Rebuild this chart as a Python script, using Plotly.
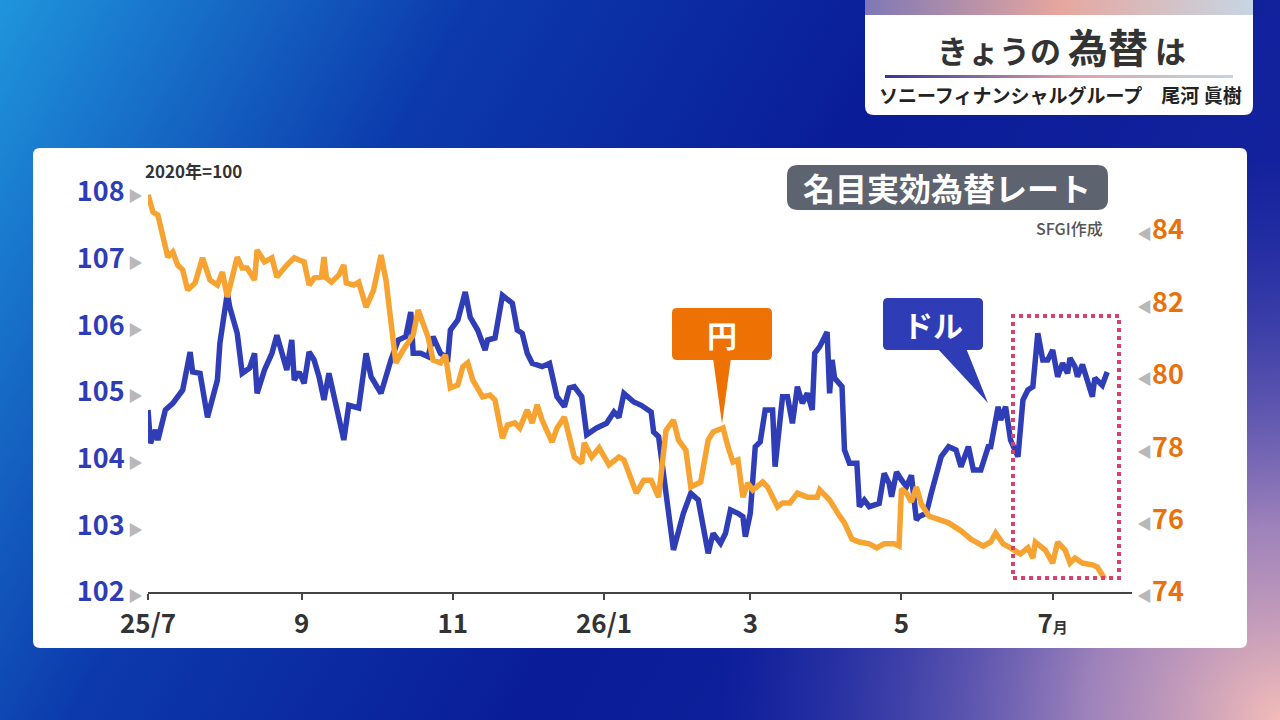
import base64
import pandas as pd
import plotly.graph_objects as go

W, H = 1280, 720
FONT = "Noto Sans CJK JP"

# days after 2025-07-01 and index values (2020=100)
usd_days = [0, 1, 3, 4, 7, 10, 14, 17, 18, 21,
            24, 28, 29, 32, 33, 36, 38, 41, 43, 44,
            47, 50, 52, 56, 58, 59, 61, 63, 65, 67,
            69, 71, 73, 75, 76, 79, 81, 85, 88, 90,
            94, 98, 101, 104, 106, 107, 110, 113, 115, 118,
            121, 122, 125, 128, 130, 133, 136, 137, 140, 141,
            143, 147, 149, 151, 153, 155, 159, 162, 163, 165,
            168, 170, 172, 175, 177, 181, 185, 188, 190, 192,
            196, 199, 203, 204, 206, 209, 212, 216, 219, 222,
            224, 226, 228, 231, 233, 235, 238, 240, 241, 243,
            245, 247, 249, 252, 253, 256, 258, 260, 262, 264,
            266, 268, 269, 271, 274, 275, 276, 277, 280, 281,
            283, 286, 287, 289, 291, 295, 297, 299, 300, 302,
            304, 306, 308, 310, 311, 314, 316, 318, 320, 323,
            326, 328, 331, 333, 336, 339, 340, 343, 344, 346,
            348, 351, 353, 355, 357, 359, 361, 363, 365, 367,
            369, 371, 372, 374, 375, 377, 379, 381, 382, 385,
            387]
usd_vals = [104.73, 104.23, 104.43, 104.28, 104.73, 104.83, 105.03, 105.60, 105.30, 105.28,
            104.62, 105.18, 105.73, 106.48, 106.27, 105.88, 105.28, 105.36, 105.58, 104.98,
            105.33, 105.58, 105.85, 105.33, 105.78, 105.18, 105.30, 105.13, 105.60, 105.48,
            105.23, 104.88, 105.28, 104.93, 104.78, 104.28, 104.80, 104.76, 105.58, 105.23,
            104.98, 105.48, 105.78, 105.83, 106.20, 105.58, 105.58, 105.53, 105.83, 105.58,
            105.51, 105.93, 106.08, 106.50, 106.12, 105.93, 105.63, 105.78, 105.81, 106.00,
            106.45, 106.33, 105.93, 105.88, 105.58, 105.43, 105.38, 105.43, 105.23, 104.93,
            104.78, 105.06, 105.08, 104.93, 104.36, 104.46, 104.53, 104.70, 104.62, 104.98,
            104.85, 104.80, 104.70, 104.40, 104.33, 103.43, 102.63, 103.18, 103.48, 103.38,
            102.98, 102.58, 102.88, 102.73, 102.88, 103.23, 103.18, 103.13, 102.83, 103.18,
            104.18, 104.25, 104.73, 104.73, 103.88, 104.93, 104.93, 104.53, 105.08, 104.83,
            104.98, 104.73, 105.58, 105.68, 105.90, 104.98, 105.48, 105.21, 105.08, 104.13,
            103.93, 103.93, 103.28, 103.38, 103.28, 103.33, 103.78, 103.63, 103.43, 103.80,
            103.68, 103.58, 103.75, 103.08, 103.13, 103.18, 103.48, 103.78, 104.03, 104.18,
            104.13, 103.88, 104.18, 103.83, 103.83, 104.18, 104.18, 104.78, 104.58, 104.78,
            104.28, 104.03, 104.88, 105.03, 105.08, 105.88, 105.48, 105.48, 105.63, 105.23,
            105.43, 105.28, 105.51, 105.38, 105.23, 105.41, 105.18, 104.93, 105.21, 105.10,
            105.30]

jpy_days = [0, 2, 4, 6, 8, 10, 12, 14, 16, 19,
            22, 25, 28, 30, 32, 36, 38, 40, 43, 44,
            47, 50, 52, 56, 59, 61, 63, 65, 67, 70,
            71, 72, 74, 77, 79, 80, 83, 85, 88, 91,
            94, 96, 98, 100, 103, 107, 109, 111, 113, 115,
            118, 120, 122, 125, 127, 129, 131, 135, 138, 140,
            143, 145, 148, 150, 153, 155, 157, 159, 163, 165,
            168, 172, 175, 176, 179, 182, 186, 190, 192, 194,
            197, 200, 203, 206, 209, 212, 214, 217, 219, 223,
            226, 228, 232, 234, 236, 238, 240, 242, 244, 248,
            250, 254, 256, 259, 262, 266, 270, 271, 275, 279,
            281, 284, 287, 291, 294, 297, 301, 303, 304, 306,
            308, 310, 312, 315, 320, 323, 328, 332, 337, 340,
            342, 345, 348, 352, 355, 357, 358, 362, 365, 367,
            370, 372, 374, 377, 381, 383, 386]
jpy_vals = [84.97, 84.50, 84.41, 83.81, 83.25, 83.39, 83.03, 82.90, 82.34, 82.54,
            83.23, 82.62, 82.48, 82.84, 82.15, 83.25, 82.95, 82.95, 82.62, 83.45,
            83.12, 83.23, 82.70, 83.03, 83.23, 83.17, 83.12, 82.48, 82.67, 82.70,
            83.25, 82.67, 82.56, 82.76, 83.03, 82.54, 82.48, 82.56, 81.87, 82.34,
            83.31, 82.62, 81.43, 80.33, 80.69, 81.10, 81.79, 81.46, 81.04, 80.41,
            80.33, 80.55, 79.64, 79.72, 80.22, 80.33, 79.86, 79.39, 79.44, 79.30,
            78.25, 78.61, 78.67, 78.53, 79.03, 78.67, 79.17, 78.75, 78.14, 78.53,
            78.83, 77.73, 77.56, 78.12, 77.73, 77.98, 77.51, 77.73, 77.65, 77.29,
            76.73, 77.09, 77.09, 76.62, 78.47, 78.75, 78.20, 77.92, 76.90, 77.04,
            78.20, 78.42, 78.53, 78.01, 77.59, 77.65, 76.62, 77.01, 76.82, 77.04,
            76.90, 76.35, 76.46, 76.46, 76.73, 76.62, 76.62, 76.82, 76.54, 76.10,
            75.91, 75.46, 75.38, 75.33, 75.22, 75.33, 75.33, 75.27, 76.85, 76.73,
            76.49, 76.90, 76.43, 76.10, 75.96, 75.91, 75.69, 75.46, 75.27, 75.38,
            75.63, 75.33, 75.22, 75.05, 75.22, 74.94, 75.38, 75.16, 74.80, 75.38,
            75.16, 74.80, 74.94, 74.80, 74.75, 74.69, 74.36]

month_ticks = ["2025-07-01", "2025-09-01", "2025-11-01", "2026-01-01",
               "2026-03-01", "2026-05-01", "2026-07-01"]
month_labels = ["25/7", "9", "11", "26/1", "3", "5",
                "7<span style='font-size:15px'>月</span>"]
left_ticks = [102, 103, 104, 105, 106, 107, 108]
right_ticks = [74, 76, 78, 80, 82, 84]

start = pd.Timestamp("2025-07-01")
usd_dates = start + pd.to_timedelta(usd_days, unit="D")
jpy_dates = start + pd.to_timedelta(jpy_days, unit="D")

BLUE = "#2F3EB7"
ORANGE = "#F6A332"
CALL_OR = "#EE7203"


def P(x, y):
    return f"{x / W:.5f},{1 - y / H:.5f}"


def rrect(x0, y0, x1, y1, r):
    return (f"M{P(x0 + r, y0)} L{P(x1 - r, y0)} Q{P(x1, y0)} {P(x1, y0 + r)} "
            f"L{P(x1, y1 - r)} Q{P(x1, y1)} {P(x1 - r, y1)} L{P(x0 + r, y1)} "
            f"Q{P(x0, y1)} {P(x0, y1 - r)} L{P(x0, y0 + r)} Q{P(x0, y0)} {P(x0 + r, y0)} Z")


def svg_uri(svg):
    return "data:image/svg+xml;base64," + base64.b64encode(svg.encode()).decode()


bg_svg = """<svg xmlns="http://www.w3.org/2000/svg" width="1280" height="720" viewBox="0 0 1280 720">
<defs>
<linearGradient id="g" x1="0" y1="0" x2="1280" y2="720" gradientUnits="userSpaceOnUse">
<stop offset="0" stop-color="#1f95dc"/>
<stop offset="0.28" stop-color="#0c3aac"/>
<stop offset="0.55" stop-color="#0a1c98"/>
<stop offset="1" stop-color="#1a26a0"/>
</linearGradient>
<radialGradient id="p" cx="1280" cy="720" r="560" gradientUnits="userSpaceOnUse">
<stop offset="0" stop-color="#f2bcb8" stop-opacity="1"/>
<stop offset="0.35" stop-color="#c9a0c4" stop-opacity="0.75"/>
<stop offset="1" stop-color="#5050b8" stop-opacity="0"/>
</radialGradient>
<linearGradient id="s" x1="0" y1="0" x2="1" y2="0">
<stop offset="0" stop-color="#7e78b6"/>
<stop offset="0.5" stop-color="#e6a69e"/>
<stop offset="1" stop-color="#c6d6e4"/>
</linearGradient>
</defs>
<rect width="1280" height="720" fill="url(#g)"/>
<rect width="1280" height="720" fill="url(#p)"/>
<rect x="865" y="0" width="388" height="16" fill="url(#s)"/>
</svg>"""

line_svg = """<svg xmlns="http://www.w3.org/2000/svg" width="348" height="3" viewBox="0 0 348 3" preserveAspectRatio="none">
<defs><linearGradient id="u" x1="0" y1="0" x2="1" y2="0">
<stop offset="0" stop-color="#35359a"/>
<stop offset="0.55" stop-color="#e0a2a6"/>
<stop offset="1" stop-color="#bcd8e2"/>
</linearGradient></defs>
<rect width="348" height="3" fill="url(#u)"/>
</svg>"""

fig = go.Figure()
fig.add_trace(go.Scatter(x=usd_dates, y=usd_vals, mode="lines", name="ドル",
                         line=dict(color=BLUE, width=5.5), yaxis="y"))
fig.add_trace(go.Scatter(x=jpy_dates, y=jpy_vals, mode="lines", name="円",
                         line=dict(color=ORANGE, width=5.5), yaxis="y2"))

tri_l = "<span style='font-size:15px;color:#b8b8b8'> ▶</span>"
tri_r = "<span style='font-size:15px;color:#b8b8b8'>◀</span>"

fig.update_layout(
    width=W, height=H,
    margin=dict(l=0, r=0, t=0, b=0, autoexpand=False),
    paper_bgcolor="#0a1c98",
    plot_bgcolor="rgba(0,0,0,0)",
    showlegend=False,
    font=dict(family=FONT),
    xaxis=dict(
        type="date",
        domain=[148 / W, 1132 / W],
        range=[start, start + pd.Timedelta(days=397)],
        tickvals=month_ticks, ticktext=month_labels,
        ticks="outside", ticklen=6, tickwidth=2, tickcolor="#444",
        showline=True, linecolor="#444", linewidth=2,
        showgrid=False, zeroline=False, automargin=False,
        ticklabelstandoff=2,
        tickfont=dict(size=26, color="#333", weight=700),
    ),
    yaxis=dict(
        domain=[1 - 592 / H, 1 - 192 / H],
        range=[102, 108],
        tickvals=left_ticks,
        ticktext=[f"{v}{tri_l}" for v in left_ticks],
        showgrid=False, zeroline=False, showline=False, ticks="",
        ticklabelstandoff=4, automargin=False,
        tickfont=dict(size=27, color="#2E3DB5", weight=700),
    ),
    yaxis2=dict(
        overlaying="y", side="right",
        range=[74, 74 + 400 / 36.2],
        tickvals=right_ticks,
        ticktext=[f"{tri_r}{v}" for v in right_ticks],
        showgrid=False, zeroline=False, showline=False, ticks="",
        ticklabelstandoff=4, automargin=False,
        tickfont=dict(size=27, color="#E8710C", weight=700),
    ),
    images=[
        dict(source=svg_uri(bg_svg), xref="paper", yref="paper", x=0, y=1,
             sizex=1, sizey=1, xanchor="left", yanchor="top",
             sizing="stretch", layer="below"),
        dict(source=svg_uri(line_svg), xref="paper", yref="paper",
             x=885 / W, y=1 - 75 / H, sizex=348 / W, sizey=3 / H,
             xanchor="left", yanchor="top", sizing="stretch", layer="above"),
    ],
)

shapes = [
    # white chart panel
    dict(type="path", path=rrect(33, 148, 1247, 648, 7), fillcolor="white",
         line_width=0, layer="below"),
    # title box
    dict(type="rect", x0=865 / W, x1=1253 / W, y0=1 - 100 / H, y1=1 - 15 / H,
         fillcolor="white", line_width=0, layer="below"),
    dict(type="path", path=rrect(865, 15, 1253, 115, 9), fillcolor="white",
         line_width=0, layer="below"),
    # series label box
    dict(type="path", path=rrect(787, 165, 1108, 210, 11), fillcolor="#5D636F",
         line_width=0, layer="above"),
    # yen callout
    dict(type="path", path=rrect(672, 308, 772, 360, 5), fillcolor=CALL_OR,
         line_width=0, layer="above"),
    dict(type="path", path=f"M{P(713, 358)} L{P(731, 358)} L{P(722, 424)} Z",
         fillcolor=CALL_OR, line_width=0, layer="above"),
    # dollar callout
    dict(type="path", path=rrect(883, 298, 983, 350, 5), fillcolor="#2E3DB5",
         line_width=0, layer="above"),
    dict(type="path", path=f"M{P(937, 348)} L{P(966, 348)} L{P(988, 403)} Z",
         fillcolor="#2E3DB5", line_width=0, layer="above"),
    # highlight box
    dict(type="rect", x0=1013 / W, x1=1119 / W, y0=1 - 578 / H, y1=1 - 316 / H,
         line=dict(color="#D8416B", width=4, dash="dot"), fillcolor="rgba(0,0,0,0)",
         layer="above"),
]
for s in shapes:
    s.setdefault("xref", "paper")
    s.setdefault("yref", "paper")
fig.update_layout(shapes=shapes)


def note(text, x, y, size, color, xanchor="center", weight=700):
    fig.add_annotation(text=text, x=x / W, y=1 - y / H, xref="paper", yref="paper",
                       showarrow=False, xanchor=xanchor, yanchor="middle",
                       font=dict(family=FONT, size=size, color=color, weight=weight))


note("きょうの <span style='font-size:40px'>為替</span> は", 1061, 46, 31, "#333")
note("ソニーフィナンシャルグループ　尾河 眞樹", 1060, 95, 19, "#222")
note("2020年=100", 143, 170, 17, "#333", xanchor="left")
note("名目実効為替レート", 947, 187, 32, "white")
note("SFGI作成", 1105, 228, 16, "#555", xanchor="right", weight=500)
note("円", 722, 334, 30, "white")
note("ドル", 933, 324, 30, "white")

fig.write_html("out.html", config={"displayModeBar": False},
               post_script="document.body.style.margin='0px';")
